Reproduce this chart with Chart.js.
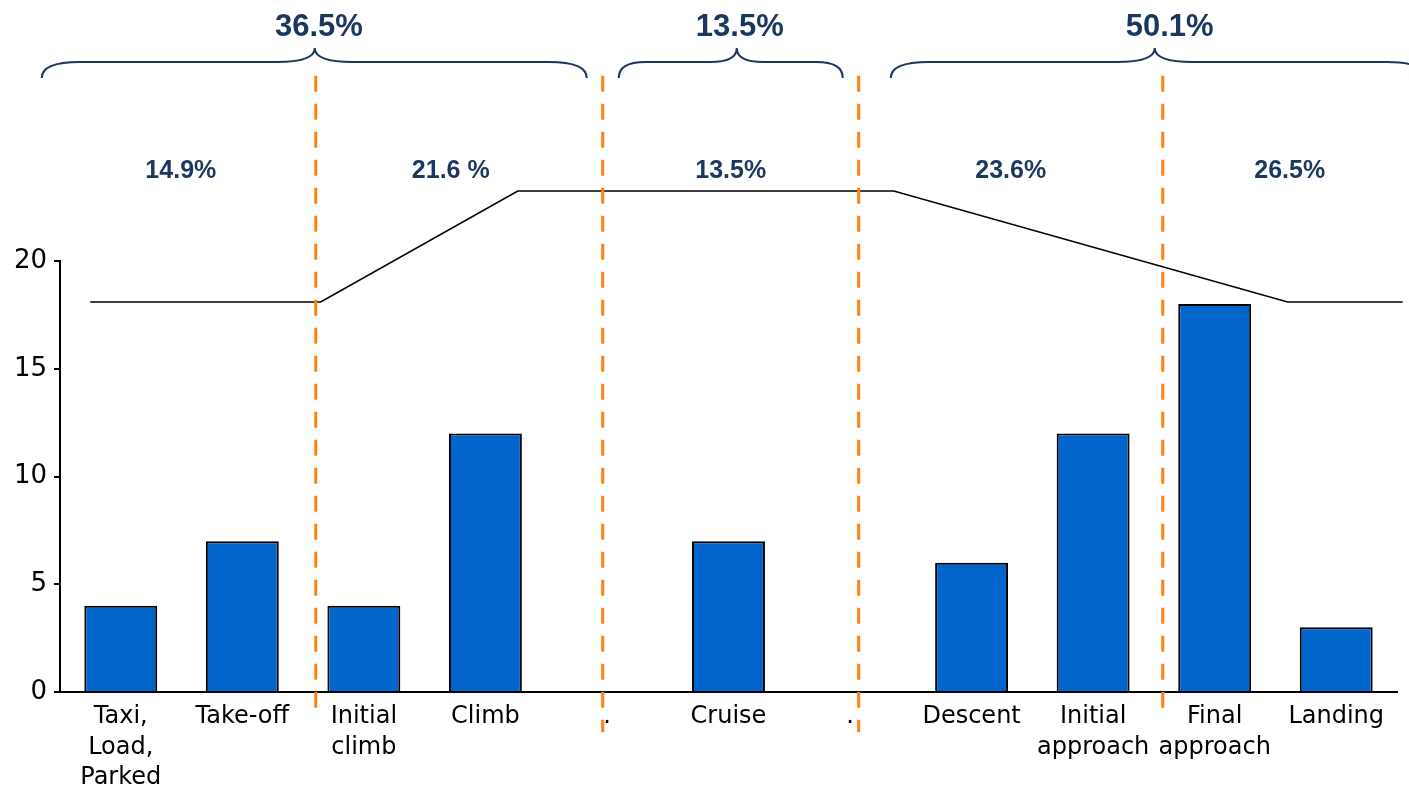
<!DOCTYPE html>
<html>
<head>
<meta charset="utf-8">
<script src="https://cdn.jsdelivr.net/npm/chart.js@4/dist/chart.umd.min.js"></script>
<style>
  html, body { margin: 0; padding: 0; background: #fff; }
  #wrap { width: 1409px; height: 787px; position: relative; }
</style>
</head>
<body>
<div id="wrap"><canvas id="chart"></canvas></div>
<script>
// flight phases and accident counts
const phases = [['Taxi,', 'Load,', 'Parked'], 'Take-off', ['Initial', 'climb'], 'Climb', '.', 'Cruise', '.', 'Descent', ['Initial', 'approach'], ['Final', 'approach'], 'Landing'];
const counts = [4, 7, 4, 12, 0, 7, 0, 6, 12, 18, 3];
const yTicks = [0, 5, 10, 15, 20];

// altitude profile (x in category units)
const profileX = [-0.251, 1.645, 3.266, 6.36, 9.6, 10.547];
const profileY = [18.1, 18.1, 23.25, 23.25, 18.1, 18.1];

// dashed phase separators
const breaksX = [1.604, 3.965, 6.071, 8.573];
const breaksTop = [28.6, 28.6, 28.6, 28.6];
const breaksBottom = [-0.75, -1.87, -1.87, -0.75];

// share of accidents per phase
const phaseShares = ['14.9%', '21.6 %', '13.5%', '23.6%', '26.5%'];
const phaseShareX = [0.494, 2.715, 5.018, 7.322, 9.617];

// grouped shares with braces
const groupShares = ['36.5%', '13.5%', '50.1%'];
const groupFrom = [-0.65, 4.097, 6.335];
const groupTo = [3.834, 5.94, 10.73];
const groupTip = [1.596, 5.068, 8.507];
const groupTextX = [1.63, 5.093, 8.63];

const navy = '#1B365F';
const orange = '#FF8210';

const breakSets = breaksX.map((bx, i) => ({
  type: 'line',
  xAxisID: 'x2',
  data: [{ x: bx, y: breaksTop[i] }, { x: bx, y: breaksBottom[i] }],
  borderColor: orange,
  borderWidth: 3,
  borderDash: [16, 12],
  pointRadius: 0,
  clip: false,
  order: 0
}));

const annotations = {
  id: 'annotations',
  afterDatasetsDraw(chart) {
    const ctx = chart.ctx;
    const xs = chart.scales.x2;
    ctx.save();
    ctx.fillStyle = navy;
    ctx.textAlign = 'center';
    ctx.textBaseline = 'middle';
    ctx.font = 'bold 25px "Liberation Sans", Arial, sans-serif';
    phaseShares.forEach((t, i) => ctx.fillText(t, xs.getPixelForValue(phaseShareX[i]), 171));

    ctx.font = 'bold 31px "Liberation Sans", Arial, sans-serif';
    ctx.strokeStyle = navy;
    ctx.lineWidth = 2;
    const yEnd = 78, yMid = 62, yTip = 48;
    groupShares.forEach((t, i) => {
      ctx.fillText(t, xs.getPixelForValue(groupTextX[i]), 27);
      const x0 = xs.getPixelForValue(groupFrom[i]);
      const x1 = xs.getPixelForValue(groupTo[i]);
      const tip = xs.getPixelForValue(groupTip[i]);
      const bend = Math.min(38, (tip - x0) / 4, (x1 - tip) / 4);
      ctx.beginPath();
      ctx.moveTo(x0, yEnd);
      ctx.quadraticCurveTo(x0, yMid, x0 + bend, yMid);
      ctx.lineTo(tip - bend, yMid);
      ctx.quadraticCurveTo(tip, yMid, tip, yTip);
      ctx.quadraticCurveTo(tip, yMid, tip + bend, yMid);
      ctx.lineTo(x1 - bend, yMid);
      ctx.quadraticCurveTo(x1, yMid, x1, yEnd);
      ctx.stroke();
    });
    ctx.restore();
  }
};

new Chart(document.getElementById('chart'), {
  type: 'bar',
  data: {
    labels: phases,
    datasets: [
      {
        type: 'bar',
        data: counts,
        backgroundColor: '#0066CC',
        borderColor: '#000',
        borderWidth: 2,
        barPercentage: 0.6,
        categoryPercentage: 1,
        grouped: false,
        order: 2
      },
      {
        type: 'line',
        xAxisID: 'x2',
        data: profileX.map((x, i) => ({ x: x, y: profileY[i] })),
        borderColor: '#000',
        borderWidth: 1.6,
        pointRadius: 0,
        tension: 0,
        clip: false,
        order: 1
      },
      ...breakSets
    ]
  },
  options: {
    responsive: true,
    maintainAspectRatio: false,
    animation: false,
    layout: { padding: { top: 261, right: 12, left: 0, bottom: 0 } },
    plugins: { legend: { display: false }, tooltip: { enabled: false } },
    scales: {
      x: {
        type: 'category',
        grid: { display: false },
        border: { display: true, color: '#000', width: 2 },
        ticks: {
          color: '#000',
          font: { family: '"DejaVu Sans", Verdana, sans-serif', size: 24, lineHeight: 1.27 },
          padding: 2,
          autoSkip: false,
          maxRotation: 0
        },
        afterFit: (scale) => { scale.height = 95; }
      },
      x2: {
        type: 'linear',
        display: false,
        offset: false,
        grace: 0,
        min: -0.5,
        max: 10.5
      },
      y: {
        min: 0,
        max: 20,
        afterBuildTicks: (scale) => { scale.ticks = yTicks.map(v => ({ value: v })); },
        grid: { display: true, drawOnChartArea: false, drawTicks: true, tickLength: 6, color: '#000', lineWidth: 2 },
        border: { display: true, color: '#000', width: 2 },
        ticks: {
          color: '#000',
          font: { family: '"DejaVu Sans", Verdana, sans-serif', size: 26 },
          padding: 7
        },
        afterFit: (scale) => { scale.width = 60; }
      }
    }
  },
  plugins: [annotations]
});
</script>
</body>
</html>
